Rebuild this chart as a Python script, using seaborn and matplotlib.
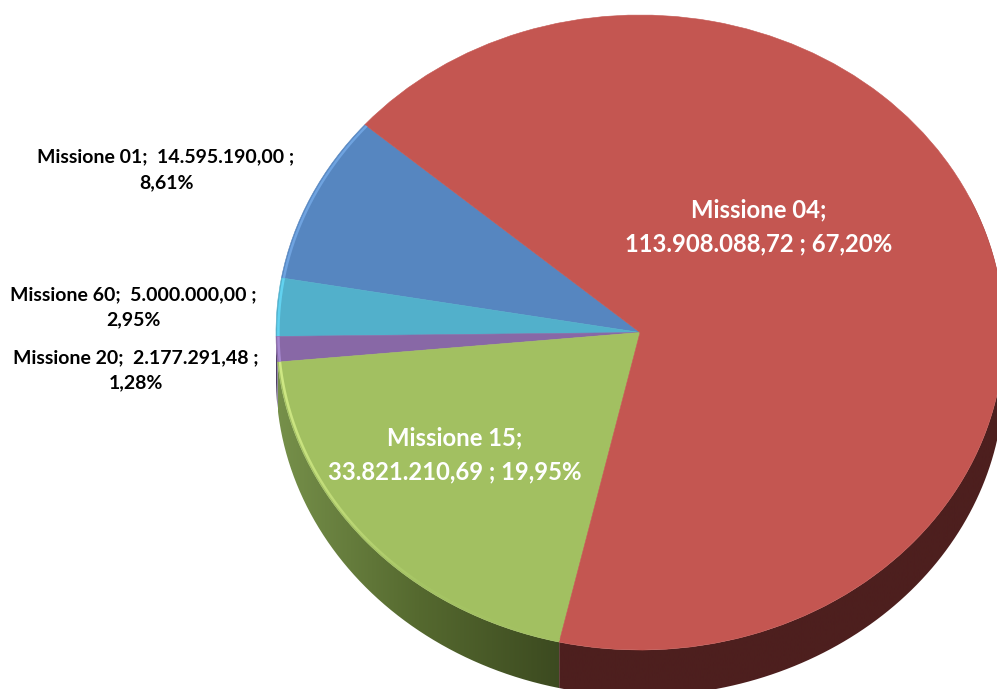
"""
Pie chart of the Missione amounts, with a fake 3D rim.
"""

import matplotlib.pyplot as plt
import numpy as np
import seaborn as sns
from matplotlib.patches import PathPatch
from matplotlib.path import Path

# data, order follows the pie going counterclockwise from the red/blue edge
missioni = ["Missione 01", "Missione 60", "Missione 20", "Missione 15", "Missione 04"]
importi = [14595190.00, 5000000.00, 2177291.48, 33821210.69, 113908088.72]
importi_txt = ["14.595.190,00", "5.000.000,00", "2.177.291,48", "33.821.210,69", "113.908.088,72"]
percentuali = ["8,61%", "2,95%", "1,28%", "19,95%", "67,20%"]

colori = ["#5686c0", "#52b0cb", "#8868a6", "#a2c061", "#c45651"]
bordi = [("#6fa3e0", "#6fa3e0"), ("#62d2f0", "#62d2f0"), ("#a68ad0", "#a68ad0"),
         ("#cfe884", "#a6c565", "#a2c061"), ("#c45651", "#c45651")]
fianchi = [("#3a5578", "#3a5578"), ("#2f6b7c", "#2f6b7c"), ("#4a3b60", "#4a3b60"),
           ("#76904a", "#55692f", "#3c4a20"), ("#4d1f1e", "#4d1f1e")]

sns.set_theme(style="white")
plt.rcParams["font.family"] = ["Lato", "DejaVu Sans"]

W, H = 997, 689
CX, CY, RX, RY = 640, 332.5, 364, 317.5
DEPTH = 46 / RY

fig = plt.figure(figsize=(W / 100, H / 100), dpi=100)
ax = fig.add_axes([0, 0, 1, 1])


def arc(t1, t2, r, off):
    t = np.radians(np.linspace(t1, t2, 200))
    return np.column_stack([r * np.cos(t), r * np.sin(t) - off])


def band(t1, t2, r1, off1, r2, off2, coppia, zorder):
    # strip between two arcs, filled with a left to right colour ramp
    pts = np.vstack([arc(t1, t2, r1, off1), arc(t2, t1, r2, off2)])
    x0, x1 = pts[:, 0].min(), pts[:, 0].max()
    y0, y1 = pts[:, 1].min(), pts[:, 1].max()
    cmap = sns.blend_palette(list(coppia), as_cmap=True)
    im = ax.imshow(np.linspace(0, 1, 256)[None, :], cmap=cmap, aspect="auto",
                   extent=(x0, x1, y0, y1), zorder=zorder)
    patch = PathPatch(Path(np.vstack([pts, pts[:1]])), fc="none", ec="none", transform=ax.transData)
    ax.add_patch(patch)
    im.set_clip_path(patch)


wedges, _ = ax.pie(
    importi,
    colors=sns.color_palette(colori),
    startangle=139.1,
    counterclock=True,
    wedgeprops={"linewidth": 0.4, "zorder": 3},
)

for w, fianco, bordo in zip(wedges, fianchi, bordi):
    w.set_edgecolor(w.get_facecolor())
    # only the part of the arc facing the viewer shows a rim
    t1 = max(w.theta1, 180)
    t2 = min(w.theta2, 385)
    if t2 > t1:
        band(t1, t2, 1, 0, 1, DEPTH, fianco, 2)
    if w.theta1 < 250:
        band(w.theta1, w.theta2, 0.997, 0, 0.99, 0, bordo, 4)

ax.set_aspect("auto")
ax.set_xlim(-CX / RX, (W - CX) / RX)
ax.set_ylim((CY - H) / RY, CY / RY)
ax.axis("off")


def etichetta(x, y, testo, size, color, spacing):
    ax.text(x / W, 1 - y / H, testo, transform=ax.transAxes, ha="center", va="center",
            fontsize=size, fontweight="bold", color=color, linespacing=spacing, zorder=6)


etichetta(166, 170, f"{missioni[0]};  {importi_txt[0]} ;\n{percentuali[0]}", 14, "#000000", 1.65)
etichetta(133, 307, f"{missioni[1]};  {importi_txt[1]} ;\n{percentuali[1]}", 14, "#000000", 1.6)
etichetta(136, 370, f"{missioni[2]};  {importi_txt[2]} ;\n{percentuali[2]}", 14, "#000000", 1.6)
etichetta(455, 455, f"{missioni[3]};\n{importi_txt[3]} ; {percentuali[3]}", 17.2, "#ffffff", 1.6)
etichetta(759, 227, f"{missioni[4]};\n{importi_txt[4]} ; {percentuali[4]}", 17.2, "#ffffff", 1.6)

fig.savefig("out.png", dpi=100, facecolor="white")
